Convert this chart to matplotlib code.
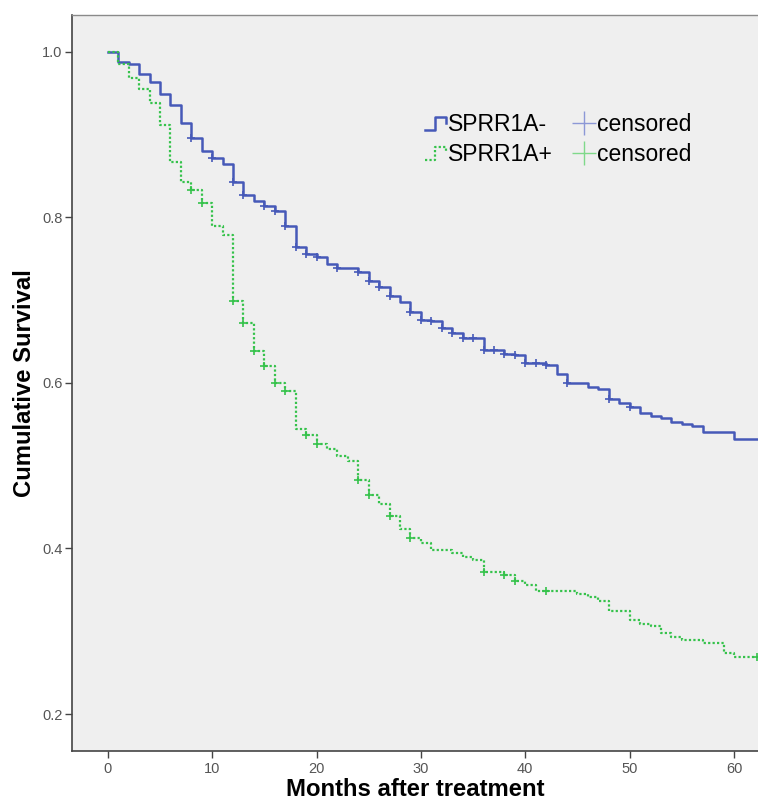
import matplotlib
matplotlib.use('Agg')
import matplotlib.pyplot as plt
import numpy as np
from matplotlib.lines import Line2D
from matplotlib.legend_handler import HandlerBase

# Kaplan-Meier estimates (months, cumulative survival)
neg_times = [0, 1, 2, 3, 4, 5, 6, 7, 8, 9, 10, 11, 12, 13, 14, 15, 16, 17, 18, 19, 20, 21, 22,
             24, 25, 26, 27, 28, 29, 30, 31, 32, 33, 34, 36, 38, 39, 40, 42, 43, 44,
             46, 47, 48, 49, 50, 51, 52, 53, 54, 55, 56, 57, 60]
neg_surv = [1.0, 0.987, 0.985, 0.973, 0.963, 0.949, 0.935, 0.914, 0.896, 0.880, 0.872, 0.864,
            0.843, 0.827, 0.820, 0.814, 0.807, 0.789, 0.764, 0.756, 0.752, 0.744, 0.738,
            0.734, 0.723, 0.716, 0.705, 0.697, 0.685, 0.676, 0.674, 0.666, 0.660, 0.654,
            0.640, 0.635, 0.633, 0.624, 0.622, 0.611, 0.600,
            0.595, 0.592, 0.581, 0.575, 0.571, 0.564, 0.560, 0.557, 0.553, 0.550, 0.548, 0.541, 0.532]
neg_censored = [8, 10, 12, 13, 15, 16, 17, 18, 19, 20, 22, 24, 25, 26, 27, 29, 30, 31, 32, 33,
                34, 35, 36, 37, 38, 39, 40, 41, 42, 44, 48, 50]

pos_times = [0, 1, 2, 3, 4, 5, 6, 7, 8, 9, 10, 11, 12, 13, 14, 15, 16, 17, 18, 19, 20, 21, 22,
             23, 24, 25, 26, 27, 28, 29, 30, 31, 33, 34, 35, 36, 38, 39, 40, 41, 45, 46, 47,
             48, 50, 51, 52, 53, 54, 55, 57, 59, 60]
pos_surv = [1.0, 0.985, 0.968, 0.955, 0.938, 0.911, 0.866, 0.843, 0.833, 0.817, 0.789, 0.779,
            0.699, 0.672, 0.638, 0.620, 0.600, 0.590, 0.544, 0.537, 0.526, 0.520, 0.512,
            0.505, 0.483, 0.465, 0.454, 0.439, 0.424, 0.413, 0.406, 0.398, 0.394, 0.390,
            0.386, 0.372, 0.368, 0.361, 0.356, 0.349, 0.345, 0.341, 0.337,
            0.324, 0.313, 0.309, 0.306, 0.298, 0.293, 0.289, 0.286, 0.274, 0.269]
pos_censored = [8, 9, 12, 13, 14, 15, 16, 17, 19, 20, 24, 25, 27, 29, 36, 38, 39, 42, 62.2]

last_follow_up = 62.3

labels = ['SPRR1A-', 'SPRR1A+']
x_ticks = [0, 10, 20, 30, 40, 50, 60]
y_ticks = [0.2, 0.4, 0.6, 0.8, 1.0]

BLUE = '#4659b8'
GREEN = '#35c24b'
arial = ['Liberation Sans', 'DejaVu Sans']


class StepHandler(HandlerBase):
    # small step glyph like the SPSS legend
    def create_artists(self, legend, orig_handle, xdescent, ydescent, width, height, fontsize, trans):
        xs = np.array([0.0, 0.45, 0.45, 1.0, 1.0]) * width - xdescent
        ys = np.array([0.1, 0.1, 0.9, 0.9, 0.55]) * height - ydescent
        ln = Line2D(xs, ys)
        ln.update_from(orig_handle)
        ln.set_data(xs, ys)
        ln.set_transform(trans)
        return [ln]


def km_curve(ax, times, surv, censored, color, ls, lw):
    t = list(times) + [last_follow_up]
    s = list(surv) + [surv[-1]]
    line, = ax.step(t, s, where='post', color=color, linestyle=ls, linewidth=lw)
    idx = np.searchsorted(times, censored, side='right') - 1
    cy = np.array(surv)[idx]
    ax.plot(censored, cy, linestyle='None', marker='+', color=color,
            markersize=6, markeredgewidth=1.2)
    return line


fig = plt.figure(figsize=(7.58, 8.02), dpi=100)
ax = fig.add_axes([0.0954, 0.0632, 0.9046, 0.918])
ax.set_facecolor('#efefef')

blue_line = km_curve(ax, neg_times, neg_surv, neg_censored, BLUE, '-', 1.8)
green_line = km_curve(ax, pos_times, pos_surv, pos_censored, GREEN, (0, (1, 1)), 1.6)

ax.set_xlim(-3.4, 62.3)
ax.set_ylim(0.155, 1.044)
ax.set_xticks(x_ticks)
ax.set_yticks(y_ticks)
ax.set_yticklabels(['%.1f' % v for v in y_ticks])
ax.tick_params(direction='out', length=4.8, width=1.0, color='#444444',
               labelcolor='#555555', labelsize=10.5)
ax.tick_params(axis='x', pad=3)
ax.tick_params(axis='y', pad=2.2)
for lab in ax.get_xticklabels() + ax.get_yticklabels():
    lab.set_family(arial)

for side in ['left', 'bottom']:
    ax.spines[side].set_color('#444444')
    ax.spines[side].set_linewidth(1.2)
ax.spines['top'].set_color('#8a8a8a')
ax.spines['top'].set_linewidth(1.0)
ax.spines['right'].set_visible(False)

ax.set_xlabel('Months after treatment', fontsize=17.2, fontweight='bold', family=arial, labelpad=1)
ax.set_ylabel('Cumulative Survival', fontsize=17.2, fontweight='bold', family=arial, labelpad=4.5)

cens_neg = Line2D([], [], linestyle='None', marker='+', color='#8c98d6',
                  markersize=17, markeredgewidth=1.0)
cens_pos = Line2D([], [], linestyle='None', marker='+', color='#7fd98a',
                  markersize=17, markeredgewidth=1.0)
leg = ax.legend([blue_line, green_line, cens_neg, cens_pos],
                [labels[0], labels[1], 'censored', 'censored'],
                ncol=2, loc='upper left', bbox_to_anchor=(0.485, 0.8945),
                frameon=False, handlelength=0.9, handletextpad=0.1,
                columnspacing=0.9, labelspacing=0.3,
                prop={'family': arial, 'size': 16.5},
                handler_map={blue_line: StepHandler(), green_line: StepHandler()})

plt.savefig('out.png', dpi=100, facecolor='white')
